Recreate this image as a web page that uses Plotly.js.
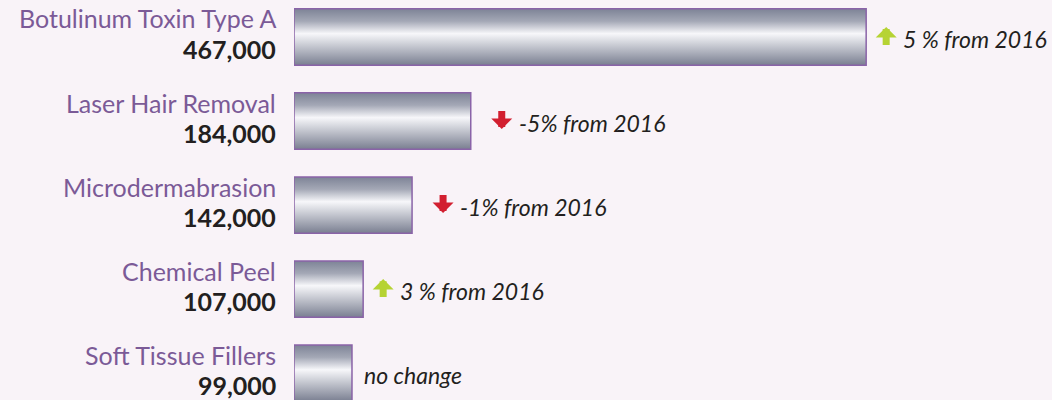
<!DOCTYPE html>
<html>
<head>
<meta charset="utf-8">
<script src="https://cdn.plot.ly/plotly-3.0.1.min.js"></script>
<style>
  html, body { margin: 0; padding: 0; background: #f9f3f8; }
  #chart { width: 1052px; height: 400px; }
</style>
</head>
<body>
<div id="chart"></div>
<script>
const categories = ['Botulinum Toxin Type A', 'Laser Hair Removal', 'Microdermabrasion', 'Chemical Peel', 'Soft Tissue Fillers'];
const procedures = [467000, 184000, 142000, 107000, 99000];
const changeLabels = ['5 % from 2016', '-5% from 2016', '-1% from 2016', '3 % from 2016', 'no change'];
const changeDirections = [1, -1, -1, 1, 0];

const AXIS_BASE = 57500;
const PURPLE = '#7b5a97';
const UP = '#b6d334';
const DOWN = '#d21f30';
const FONT = 'Lato, sans-serif';

const annotations = [];
categories.forEach((c, i) => {
  annotations.push({
    xref: 'paper', x: 0, xanchor: 'right', xshift: -17,
    y: c, yanchor: 'middle', yshift: 18.5,
    text: c, showarrow: false, borderpad: 0,
    font: { family: FONT, size: 25, color: PURPLE }
  });
  annotations.push({
    xref: 'paper', x: 0, xanchor: 'right', xshift: -17,
    y: c, yanchor: 'middle', yshift: -12,
    text: '<b>' + procedures[i].toLocaleString('en-US') + '</b>', showarrow: false, borderpad: 0,
    font: { family: FONT, size: 25, color: '#231f20' }
  });
  const d = changeDirections[i];
  if (d !== 0) {
    annotations.push({
      x: procedures[i], y: c, xref: 'x', yref: 'y',
      xshift: d > 0 ? 20 : 31, yshift: d > 0 ? 10 : -8,
      text: ' ', font: { size: 1 }, borderpad: 0,
      showarrow: true, ax: 0, ay: d > 0 ? 19 : -19,
      arrowhead: 1, arrowsize: 0.5, arrowwidth: 7,
      arrowcolor: d > 0 ? UP : DOWN, standoff: 0, startstandoff: 0
    });
  }
  annotations.push({
    x: procedures[i], y: c, xanchor: 'left', yanchor: 'middle',
    xshift: d === 0 ? 10 : (d > 0 ? 35 : 46), yshift: -2,
    text: '<i>' + changeLabels[i] + '</i>', showarrow: false,
    font: { family: FONT, size: 23, color: '#231f20' }
  });
});

const trace = {
  type: 'bar', orientation: 'h',
  y: categories,
  x: procedures.map(v => v - AXIS_BASE),
  base: AXIS_BASE,
  width: 0.67,
  marker: { color: '#b0b3bf', line: { color: '#8a63a8', width: 1.5 } },
  hoverinfo: 'skip'
};

const layout = {
  width: 1052, height: 400,
  margin: { l: 294, r: 0, t: 0, b: 0 },
  paper_bgcolor: '#f9f3f8', plot_bgcolor: '#f9f3f8',
  showlegend: false,
  xaxis: { range: [AXIS_BASE, 600000], visible: false, showgrid: false, zeroline: false },
  yaxis: { type: 'category', range: [4.32, -0.44], visible: false, showgrid: false, zeroline: false },
  annotations: annotations
};

Plotly.newPlot('chart', [trace], layout, { displayModeBar: false, staticPlot: true }).then(gd => {
  const svg = gd.querySelector('svg.main-svg');
  const NS = 'http://www.w3.org/2000/svg';
  let defs = svg.querySelector('defs');
  if (!defs) { defs = document.createElementNS(NS, 'defs'); svg.insertBefore(defs, svg.firstChild); }
  const grad = document.createElementNS(NS, 'linearGradient');
  grad.setAttribute('id', 'barGrad');
  grad.setAttribute('x1', '0'); grad.setAttribute('y1', '0');
  grad.setAttribute('x2', '0'); grad.setAttribute('y2', '1');
  [['0', '#7d8396'], ['0.22', '#a4a8b6'], ['0.44', '#f7f7fa'], ['0.6', '#d3d5dc'], ['1', '#7a7f91']].forEach(([o, c]) => {
    const s = document.createElementNS(NS, 'stop');
    s.setAttribute('offset', o); s.setAttribute('stop-color', c);
    grad.appendChild(s);
  });
  defs.appendChild(grad);
  gd.querySelectorAll('.barlayer .point path').forEach(p => { p.style.fill = 'url(#barGrad)'; });
});
</script>
</body>
</html>
